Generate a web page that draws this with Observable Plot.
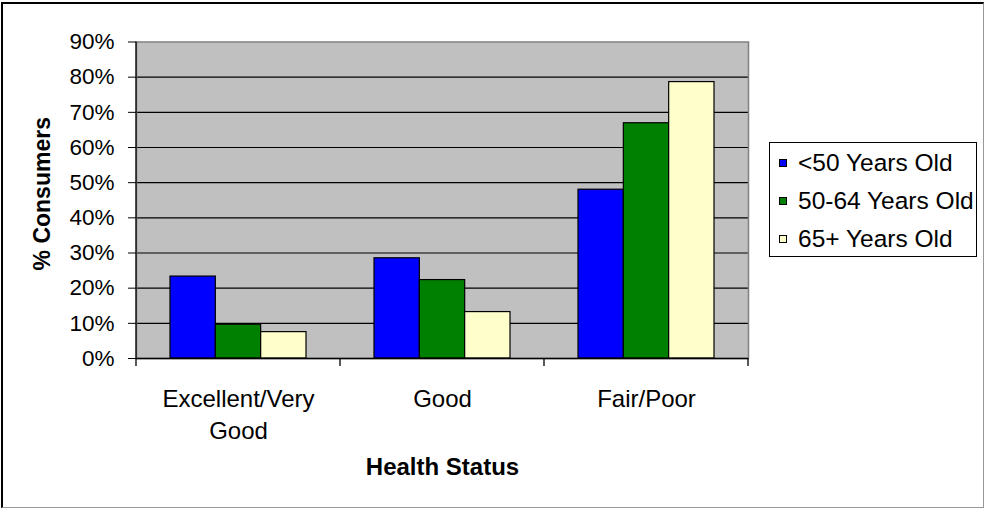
<!DOCTYPE html>
<html>
<head>
<meta charset="utf-8">
<script src="https://cdn.jsdelivr.net/npm/d3@7"></script>
<script src="https://cdn.jsdelivr.net/npm/@observablehq/plot@0.6"></script>
<style>
  html, body { margin: 0; padding: 0; background: #fff; }
  #wrap { position: relative; width: 984px; height: 508px; font-family: "Liberation Sans", Arial, sans-serif; }
  #border { position: absolute; left: 1px; top: 2px; width: 980px; height: 503px;
            border-left: 2px solid #000; border-top: 2px solid #000;
            border-right: 1px solid #999; border-bottom: 1px solid #999; pointer-events: none; }
  #legend { position: absolute; left: 769px; top: 142px; width: 206px; height: 113px;
            border: 1px solid #000; background: #fff; box-sizing: content-box; }
  .item { position: absolute; left: 0; height: 30px; display: flex; align-items: center; font-size: 24.5px; color: #000; white-space: nowrap; }
  .sw { width: 6px; height: 6px; border: 1px solid #000; margin-left: 9px; margin-right: 11px; }
  svg { position: absolute; left: 0; top: 0; }
</style>
</head>
<body>
<div id="wrap"><div id="border"></div></div>
<script>
const categories = ["Excellent/Very Good", "Good", "Fair/Poor"];
const series = ["<50 Years Old", "50-64 Years Old", "65+ Years Old"];
const colors = ["#0000ff", "#008000", "#ffffcc"];
const under50 = [23.3, 28.5, 48.0];
const age50to64 = [9.6, 22.3, 66.9];
const age65plus = [7.5, 13.2, 78.6];
const yTicks = [0, 10, 20, 30, 40, 50, 60, 70, 80, 90];
const gridValues = [10, 20, 30, 40, 50, 60, 70, 80];
const yLabel = "% Consumers";
const xLabel = "Health Status";

const valuesBySeries = [under50, age50to64, age65plus];
const rows = categories.flatMap((c, ci) => series.map((s, si) => ({category: c, series: s, value: valuesBySeries[si][ci]})));

const W = 984, H = 508, mL = 136, mR = 236, mT = 41.5, mB = 150;
const band = (W - mL - mR) / categories.length;
const groupPad = band / 6;
const barW = (band - 2 * groupPad) / series.length;

function axisLines(index, scales, values, dims) {
  const g = d3.create("svg:g");
  const x0 = dims.marginLeft, x1 = dims.width - dims.marginRight;
  const y0 = dims.height - dims.marginBottom, yTop = dims.marginTop;
  g.append("line").attr("x1", x0).attr("x2", x0).attr("y1", yTop).attr("y2", y0 + 0.5).attr("stroke", "#000").attr("stroke-width", 1.3);
  const bounds = categories.map(c => scales.x(c)).concat([x1]);
  for (const b of bounds) {
    g.append("line").attr("x1", b).attr("x2", b).attr("y1", y0).attr("y2", y0 + 8).attr("stroke", "#000").attr("stroke-width", 1.3);
  }
  return g.node();
}

const chart = Plot.plot({
  width: W, height: H,
  marginLeft: mL, marginRight: mR, marginTop: mT, marginBottom: mB,
  style: {fontFamily: "'Liberation Sans', Arial, sans-serif", background: "transparent", color: "#000"},
  x: {domain: categories, padding: 0, label: null},
  y: {domain: [0, 90], label: null},
  marks: [
    Plot.frame({fill: "#c0c0c0", stroke: null}),
    Plot.ruleY(gridValues, {stroke: "#000", strokeWidth: 1.2}),
    Plot.frame({stroke: "#808080", strokeWidth: 1.5}),
    ...series.map((s, si) => Plot.barY(rows.filter(d => d.series === s), {
      x: "category", y: "value", fill: colors[si], stroke: "#000", strokeWidth: 1.2,
      insetLeft: groupPad + si * barW,
      insetRight: band - groupPad - (si + 1) * barW
    })),
    Plot.ruleY([0], {stroke: "#000", strokeWidth: 1.3}),
    axisLines,
    Plot.axisY({ticks: yTicks, tickSize: 8, tickPadding: 14, tickFormat: d => d + "%", fontSize: 22.5, label: null, stroke: "#000"}),
    Plot.axisX({tickSize: 0, tickPadding: 25, fontSize: 24, lineHeight: 1.35, label: null,
      tickFormat: d => d.replace("/Very ", "/Very\n")}),
    Plot.text([yLabel], {frameAnchor: "left", text: d => d, rotate: -90, dx: -94, dy: -6.5, fontSize: 23, fontWeight: "bold", lineAnchor: "middle", textAnchor: "middle"}),
    Plot.text([xLabel], {frameAnchor: "bottom", text: d => d, dy: 99.5, fontSize: 24, fontWeight: "bold", lineAnchor: "top", textAnchor: "middle"})
  ]
});

const wrap = document.getElementById("wrap");
wrap.insertBefore(chart, wrap.firstChild);

const legend = document.createElement("div");
legend.id = "legend";
series.forEach((s, si) => {
  const item = document.createElement("div");
  item.className = "item";
  item.style.top = (4.5 + si * 38.3) + "px";
  const sw = document.createElement("span");
  sw.className = "sw";
  sw.style.background = colors[si];
  const t = document.createElement("span");
  t.textContent = s;
  item.appendChild(sw);
  item.appendChild(t);
  legend.appendChild(item);
});
wrap.appendChild(legend);
</script>
</body>
</html>
